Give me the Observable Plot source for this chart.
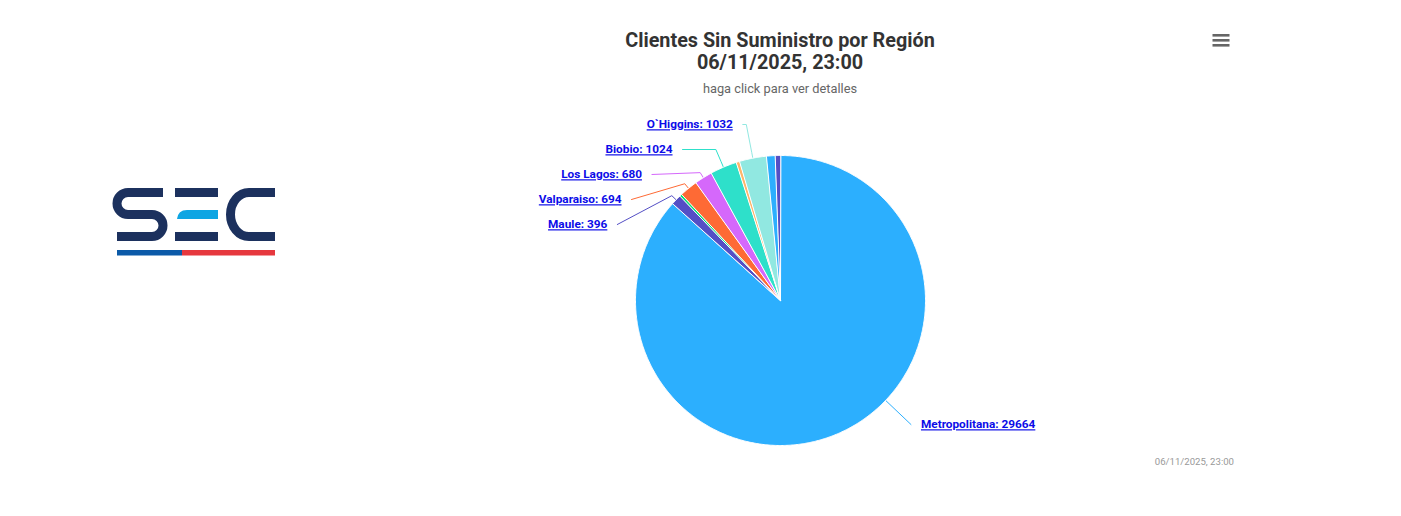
<!DOCTYPE html>
<html><head><meta charset="utf-8">
<script src="https://cdn.jsdelivr.net/npm/d3@7"></script>
<script src="https://cdn.jsdelivr.net/npm/@observablehq/plot@0.6"></script>
<style>
html,body{margin:0;padding:0;background:#fff;}
#wrap{position:relative;width:1401px;height:516px;overflow:hidden;font-family:Roboto,"Noto Sans",sans-serif;}
#chart{position:absolute;left:0;top:0;}
.t{position:absolute;left:480px;width:600px;text-align:center;white-space:nowrap;}
#title{top:30px;font-size:19.8px;font-weight:bold;color:#333;line-height:22px;}
#subtitle{top:81px;font-size:12.8px;color:#666;}
#credits{position:absolute;right:167px;top:456px;font-size:9.6px;color:#999;}
#logo{position:absolute;left:110px;top:180px;}
#menu{position:absolute;left:1210px;top:30px;}
</style></head><body>
<div id="wrap">
  <div id="chart"></div>
  <svg id="logo" width="180" height="90" viewBox="110 180 180 90">
    <path d="M163,192.5 H128 A11,11 0 0 0 128,214.5 H152 A11,11 0 0 1 152,236.5 H117" fill="none" stroke="#1c315e" stroke-width="9"/>
    <rect x="175" y="188" width="43" height="9" fill="#1c315e"/>
    <path d="M177,219 Q178,210 187,210 H218 V219 Z" fill="#0ea5e3"/>
    <rect x="175" y="232" width="43" height="9" fill="#1c315e"/>
    <path d="M275,192.5 H249 A18.5,22 0 0 0 249,236.5 H275" fill="none" stroke="#1c315e" stroke-width="9"/>
    <rect x="117" y="250" width="65" height="5.5" fill="#0b5aa8"/>
    <rect x="182" y="250" width="93" height="5.5" fill="#e6383e"/>
  </svg>
  <svg id="menu" width="24" height="20">
    <rect x="2.5" y="4" width="17" height="2.6" fill="#666"/>
    <rect x="2.5" y="9" width="17" height="2.6" fill="#666"/>
    <rect x="2.5" y="14" width="17" height="2.6" fill="#666"/>
  </svg>
  <div id="title" class="t">Clientes Sin Suministro por Región<br>06/11/2025, 23:00</div>
  <div id="subtitle" class="t">haga click para ver detalles</div>
  <div id="credits">06/11/2025, 23:00</div>
</div>
<script>
// ---- data ----
const regiones = ["Metropolitana","Maule","Ñuble","Valparaiso","Los Lagos","Biobio","Araucanía","O`Higgins","Coquimbo","Los Ríos"];
const clientes = [29664, 396, 90, 694, 680, 1024, 130, 1032, 330, 200];
const colores  = ["#2caffe","#544fc5","#00e272","#fe6a35","#d568fb","#2ee0ca","#feb56a","#91e8e1","#2caffe","#544fc5"];
const conEtiqueta = [true, true, false, true, true, true, false, true, false, false];

// ---- layout (pie radius = 1 unit = 145px) ----
const PX = 1 / 145;
const DIST = 30 * PX, R_CONN = 180 * PX, R_BREAK = 151 * PX, GAP = 10 * PX, SPACING = 25 * PX;
const Y_MIN = -176 * PX, Y_MAX = 124 * PX;
const FONT = "Roboto, 'Noto Sans', sans-serif";

const arcs = d3.pie().sort(null).value(d => d)(clientes);

const slices = arcs.map((a, i) => {
  const n = Math.max(2, Math.ceil((a.endAngle - a.startAngle) / (Math.PI / 360)));
  const ring = [[0, 0]];
  for (let k = 0; k <= n; k++) {
    const t = a.startAngle + (a.endAngle - a.startAngle) * k / n;
    ring.push([Math.sin(t), -Math.cos(t)]);
  }
  ring.push([0, 0]);
  return {type: "Feature", properties: {name: regiones[i], color: colores[i]},
          geometry: {type: "Polygon", coordinates: [ring]}};
});

// labels
const labs = arcs.map((a, i) => ({i, name: regiones[i], value: clientes[i], color: colores[i],
  mid: (a.startAngle + a.endAngle) / 2})).filter(d => conEtiqueta[d.i]);
labs.forEach(d => {
  d.side = Math.sin(d.mid) < 0 ? -1 : 1;
  d.natural = -Math.cos(d.mid) * (1 + DIST);
  d.clamped = d.natural > Y_MAX || d.natural < Y_MIN;
});
for (const side of [-1, 1]) {
  const items = labs.filter(d => d.side === side).sort((a, b) => a.natural - b.natural);
  let groups = items.map(d => ({items: [d]}));
  const place = g => {
    const n = g.items.length;
    const mean = d3.mean(g.items, d => d.natural);
    let start = mean - (n - 1) * SPACING / 2;
    start = Math.max(Y_MIN, Math.min(start, Y_MAX - (n - 1) * SPACING));
    g.start = start; g.end = start + (n - 1) * SPACING;
  };
  groups.forEach(place);
  let merged = true;
  while (merged) {
    merged = false;
    for (let k = 0; k < groups.length - 1; k++) {
      if (groups[k].end + SPACING > groups[k + 1].start) {
        groups[k] = {items: groups[k].items.concat(groups[k + 1].items)};
        groups.splice(k + 1, 1);
        place(groups[k]);
        merged = true; break;
      }
    }
  }
  groups.forEach(g => g.items.forEach((d, k) => d.y = g.start + k * SPACING));
}
const connectors = [];
labs.forEach(d => {
  const xs = d.side * Math.sqrt(R_CONN * R_CONN - d.y * d.y);
  d.xc = xs; d.xt = xs + d.side * GAP;
  const ang = d.clamped ? Math.atan2(xs, -d.y) : d.mid;
  const brk = [R_BREAK * Math.sin(ang), -R_BREAK * Math.cos(ang)];
  const touch = [Math.sin(ang), -Math.cos(ang)];
  const crookX = -d.y * Math.tan(ang);
  const pts = [[xs, d.y]];
  const ok = d.side < 0 ? (crookX >= xs && crookX <= brk[0]) : (crookX <= xs && crookX >= brk[0]);
  if (ok) pts.push([crookX, d.y]);
  pts.push(brk, touch);
  pts.forEach(p => connectors.push({z: d.i, x: p[0], y: p[1], color: d.color}));
  d.text = `${d.name}: ${d.value}`;
});

const chart = Plot.plot({
  width: 1401, height: 516,
  marginLeft: 635, marginRight: 476, marginTop: 155, marginBottom: 71,
  projection: {type: "identity", domain: {type: "MultiPoint", coordinates: [[-1, -1], [1, 1]]}, clip: false},
  style: {background: "transparent", overflow: "visible"},
  marks: [
    Plot.line(connectors, {x: "x", y: "y", z: "z", stroke: "color", strokeWidth: 1, curve: "linear"}),
    Plot.geo(slices, {fill: d => d.properties.color, stroke: "white", strokeWidth: 1, strokeLinejoin: "round"}),
    Plot.text(labs.filter(d => d.side < 0), {x: "xt", y: "y", text: "text", textAnchor: "end",
      fill: "#0c0ce8", fontWeight: "bold", fontSize: 11.8, fontFamily: FONT}),
    Plot.text(labs.filter(d => d.side > 0), {x: "xt", y: "y", text: "text", textAnchor: "start",
      fill: "#0c0ce8", fontWeight: "bold", fontSize: 11.8, fontFamily: FONT})
  ]
});
document.getElementById("chart").appendChild(chart);
d3.select(chart).selectAll("text").style("text-decoration", "underline");
</script>
</body></html>
